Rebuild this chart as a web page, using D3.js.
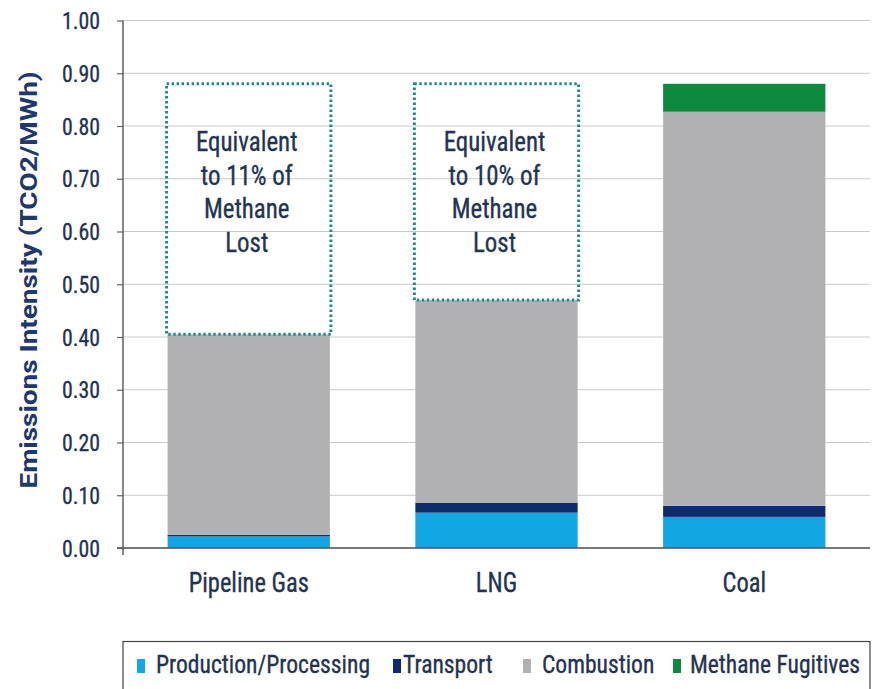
<!DOCTYPE html>
<html>
<head>
<meta charset="utf-8">
<script src="https://cdn.jsdelivr.net/npm/d3@7"></script>
<style>
  body { margin: 0; background: #fff; }
  text { font-family: "Liberation Sans Narrow", "Roboto Condensed", "Arial Narrow", Roboto, sans-serif; }
  .heavy { stroke: #24344f; stroke-width: 0.35; }
</style>
</head>
<body>
<svg id="chart"></svg>
<script>
// chart data
var categories = ["Pipeline Gas", "LNG", "Coal"];
var production = [0.022, 0.067, 0.059];
var transport  = [0.003, 0.019, 0.021];
var combustion = [0.380, 0.384, 0.747];
var fugitives  = [0.000, 0.000, 0.053];
var seriesNames = ["Production/Processing", "Transport", "Combustion", "Methane Fugitives"];
var yTicks = [0, 0.1, 0.2, 0.3, 0.4, 0.5, 0.6, 0.7, 0.8, 0.9, 1.0];

// methane-lost annotation boxes (top of the dotted box)
var lostTop = [0.88, 0.88, null];
var lostText = [
  ["Equivalent", "to 11% of", "Methane", "Lost"],
  ["Equivalent", "to 10% of", "Methane", "Lost"],
  null
];

var colors = ["#12a6e2", "#0c2c6c", "#b1b1b4", "#0e8a3e"];
var textColor = "#24344f";
var sx = 0.89; // the source image is a bit stretched vertically

var width = 881, height = 689;
var margin = {top: 20.5, right: 11, bottom: 141, left: 123};

var svg = d3.select("#chart")
    .attr("width", width)
    .attr("height", height);

var g = svg.append("g")
    .attr("transform", "translate(" + margin.left + "," + margin.top + ")");

var w = width - margin.left - margin.right;
var h = height - margin.top - margin.bottom;

var x = d3.scaleBand().domain(categories).range([0, w]).paddingInner(0.345).paddingOuter(0.18);
var y = d3.scaleLinear().domain([0, 1]).range([h, 0]);

function at(px, py) { return "translate(" + px + "," + py + ") scale(" + sx + ",1)"; }

// gridlines
g.selectAll(".grid")
    .data(yTicks)
  .enter().append("line")
    .attr("x1", 0).attr("x2", w)
    .attr("y1", function(d) { return y(d); })
    .attr("y2", function(d) { return y(d); })
    .attr("stroke", "#c9c9c9")
    .attr("stroke-width", 1.2);

// stacked bars
var rows = categories.map(function(c, i) {
  return {cat: c, production: production[i], transport: transport[i], combustion: combustion[i], fugitives: fugitives[i]};
});
var keys = ["production", "transport", "combustion", "fugitives"];
var stack = d3.stack().keys(keys)(rows);

g.selectAll(".layer")
    .data(stack)
  .enter().append("g")
    .attr("fill", function(d, i) { return colors[i]; })
  .selectAll("rect")
    .data(function(d) { return d; })
  .enter().append("rect")
    .attr("x", function(d) { return x(d.data.cat); })
    .attr("width", x.bandwidth())
    .attr("y", function(d) { return y(d[1]); })
    .attr("height", function(d) { return y(d[0]) - y(d[1]); });

// dotted boxes + text
categories.forEach(function(c, i) {
  if (lostTop[i] == null) return;
  var total = production[i] + transport[i] + combustion[i] + fugitives[i];
  g.append("rect")
    .attr("x", x(c) - 1)
    .attr("y", y(lostTop[i]))
    .attr("width", x.bandwidth() + 2)
    .attr("height", y(total) - y(lostTop[i]))
    .attr("fill", "none")
    .attr("stroke", "#1f8a88")
    .attr("stroke-width", 3)
    .attr("stroke-dasharray", "2.4,2.6");

  g.append("text")
    .attr("class", "heavy")
    .attr("transform", at(x(c) + x.bandwidth() / 2 - 2, y(0.80) + 25))
    .attr("text-anchor", "middle")
    .attr("font-size", 28)
    .attr("fill", textColor)
    .selectAll("tspan")
    .data(lostText[i])
  .enter().append("tspan")
    .attr("x", 0)
    .attr("dy", function(d, j) { return j === 0 ? 0 : 33.7; })
    .text(function(d) { return d; });
});

// y axis ticks
var yAxis = g.append("g")
    .call(d3.axisLeft(y).tickValues(yTicks).tickFormat("").tickSize(6));
yAxis.select(".domain").remove();
yAxis.selectAll("line").attr("stroke", "#666").attr("stroke-width", 1.2);

g.selectAll(".ylab")
    .data(yTicks)
  .enter().append("text")
    .attr("class", "heavy")
    .attr("transform", function(d) { return at(-23, y(d) + 8.5); })
    .attr("text-anchor", "end")
    .attr("font-size", 24.5)
    .attr("fill", textColor)
    .text(d3.format(".2f"));

g.append("line")
    .attr("x1", 0).attr("x2", 0)
    .attr("y1", 0).attr("y2", h + 7)
    .attr("stroke", "#555").attr("stroke-width", 1.4);
g.append("line")
    .attr("x1", -6).attr("x2", w)
    .attr("y1", h).attr("y2", h)
    .attr("stroke", "#555").attr("stroke-width", 1.4);

// x axis labels
g.selectAll(".xlab")
    .data(categories)
  .enter().append("text")
    .attr("class", "heavy")
    .attr("transform", function(d) { return at(x(d) + x.bandwidth() / 2, h + 44); })
    .attr("text-anchor", "middle")
    .attr("font-size", 27.5)
    .attr("fill", textColor)
    .text(function(d) { return d; });

// y title
svg.append("text")
    .attr("transform", "translate(37,280) rotate(-90) scale(1.14,1)")
    .attr("text-anchor", "middle")
    .attr("font-size", 24.5)
    .attr("font-weight", "bold")
    .attr("fill", "#1f3a6a")
    .style("font-family", "Roboto, 'Liberation Sans', sans-serif")
    .text("Emissions Intensity (TCO2/MWh)");

// legend
svg.append("rect")
    .attr("x", 123).attr("y", 641.5)
    .attr("width", 747).attr("height", 60)
    .attr("fill", "none")
    .attr("stroke", "#444").attr("stroke-width", 1.2);

var legBox = [137, 393, 523, 673];
var legText = [156, 403, 542, 690];
seriesNames.forEach(function(s, i) {
  svg.append("rect")
    .attr("x", legBox[i]).attr("y", 659)
    .attr("width", 8).attr("height", 14)
    .attr("fill", colors[i]);
  svg.append("text")
    .attr("class", "heavy")
    .attr("transform", at(legText[i], 673))
    .attr("font-size", 26.5)
    .attr("fill", textColor)
    .text(s);
});
</script>
</body>
</html>
